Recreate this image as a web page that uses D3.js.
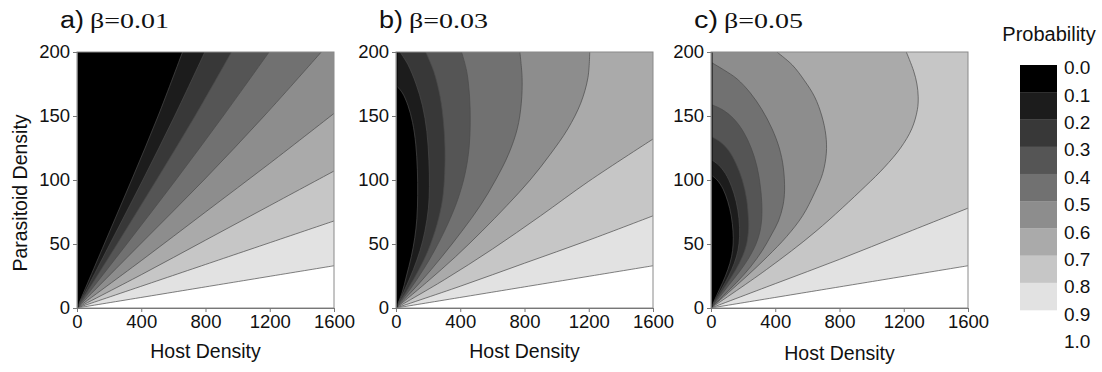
<!DOCTYPE html>
<html>
<head>
<meta charset="utf-8">
<script src="https://cdn.jsdelivr.net/npm/d3@7"></script>
<style>
  html, body { margin: 0; padding: 0; background: #fff; }
  svg { display: block; }
  text { font-family: "Liberation Sans", Arial, sans-serif; fill: #111; }
</style>
</head>
<body>
<svg id="chart" width="1102" height="372"></svg>
<script>
// ---------------- DATA ----------------
const panelLetters = ["a)", "b)", "c)"];
const panelBetas = ["β=0.01", "β=0.03", "β=0.05"];
const xTicks = [0, 400, 800, 1200, 1600];
const yTicks = [0, 50, 100, 150, 200];
const levels = [0.1, 0.2, 0.3, 0.4, 0.5, 0.6, 0.7, 0.8, 0.9];
const bandColors = ["#000000", "#1c1c1c", "#383838", "#555555", "#717171",
                    "#8d8d8d", "#aaaaaa", "#c6c6c6", "#e2e2e2"];
const legendLabels = ["0.0","0.1","0.2","0.3","0.4","0.5","0.6","0.7","0.8","0.9","1.0"];

// contour lines as [Host Density, Parasitoid Density]
const contoursA = [
  [[0,0],[170,50],[340,100],[505,150],[657,200]],
  [[0,0],[205,50],[410,100],[608,150],[796,200]],
  [[0,0],[250,50],[495,100],[735,150],[962,200]],
  [[0,0],[310,50],[615,100],[910,150],[1196,200]],
  [[0,0],[395,50],[790,100],[1165,150],[1521,200]],
  [[0,0],[400,37],[800,75],[1200,113],[1600,152]],
  [[0,0],[400,26],[800,53],[1200,80],[1600,107]],
  [[0,0],[800,34],[1600,68]],
  [[0,0],[800,16.5],[1600,33]]
];
const contoursB = [
  [[0,0],[38,12],[65,25],[95,40],[117,55],[130,70],[135,88],[133,108],[123,128],[103,145],[75,158],[40,168],[0,174]],
  [[0,0],[57,15],[108,30],[150,45],[180,60],[202,78],[208,95],[205,115],[192,138],[165,158],[125,175],[75,190],[25,200]],
  [[0,0],[75,15],[143,30],[200,45],[255,65],[290,85],[303,105],[305,125],[296,145],[275,165],[235,185],[185,200]],
  [[0,0],[90,15],[170,30],[240,45],[320,65],[385,85],[430,105],[455,125],[462,145],[458,165],[440,185],[408,200]],
  [[0,0],[150,20],[285,40],[410,60],[525,80],[620,100],[700,120],[755,140],[780,160],[785,180],[771,200]],
  [[0,0],[190,20],[370,40],[535,60],[690,80],[835,100],[960,120],[1070,140],[1150,160],[1195,180],[1206,200]],
  [[0,0],[300,22],[600,46],[900,72],[1200,99],[1600,132]],
  [[0,0],[400,17],[800,35],[1200,53],[1600,72]],
  [[0,0],[800,16.5],[1600,33]]
];
const contoursC = [
  [[0,0],[36,10],[73,20],[105,30],[128,40],[138,50],[137,60],[126,72],[105,83],[75,93],[38,100],[0,104]],
  [[0,0],[31,7],[67,15],[110,25],[145,35],[168,45],[178,56],[174,70],[157,83],[128,95],[90,105],[45,112],[0,116]],
  [[0,0],[52,10],[105,20],[155,30],[195,40],[222,50],[234,62],[233,70],[222,85],[195,100],[155,113],[110,123],[55,130],[0,134]],
  [[0,0],[50,8],[112,18],[175,28],[230,38],[280,50],[305,60],[317,73],[310,92],[287,110],[250,125],[200,138],[140,148],[70,155],[0,159]],
  [[0,0],[80,10],[160,20],[245,32],[320,45],[375,57],[420,68],[448,80],[458,92],[450,110],[425,125],[380,140],[317,155],[245,168],[162,179],[80,186],[0,192]],
  [[0,0],[108,12],[224,25],[350,40],[472,56],[570,72],[645,90],[695,105],[718,121],[715,135],[690,150],[645,165],[580,178],[505,190],[410,200]],
  [[0,0],[345,30],[654,60],[960,95],[1080,110],[1180,125],[1250,140],[1285,155],[1290,165],[1282,175],[1262,185],[1216,200]],
  [[0,0],[400,19],[800,38],[1200,58],[1600,78]],
  [[0,0],[800,16.5],[1600,33]]
];
const panelContours = [contoursA, contoursB, contoursC];

// ---------------- LAYOUT ----------------
const panelLeft = [77, 396, 711];
const plotW = 257, plotTop = 52, plotH = 256;

const svg = d3.select("#chart");
const defs = svg.append("defs");

panelContours.forEach((contours, pi) => {
  const x0 = panelLeft[pi];
  const x = d3.scaleLinear().domain([0, 1600]).range([x0, x0 + plotW]);
  const y = d3.scaleLinear().domain([0, 200]).range([plotTop + plotH, plotTop]);
  const g = svg.append("g");

  const clipId = "clip" + pi;
  defs.append("clipPath").attr("id", clipId)
    .append("rect").attr("x", x0).attr("y", plotTop).attr("width", plotW).attr("height", plotH);

  const area = g.append("g").attr("clip-path", `url(#${clipId})`);
  area.append("rect").attr("x", x0).attr("y", plotTop).attr("width", plotW).attr("height", plotH)
    .attr("fill", "#ffffff");

  const line = d3.line().x(d => x(d[0])).y(d => y(d[1])).curve(d3.curveCatmullRom.alpha(0.5));

  // paint regions from highest level to lowest
  for (let k = levels.length - 1; k >= 0; k--) {
    const pts = contours[k];
    const last = pts[pts.length - 1];
    let corners = [];
    if (last[0] >= 1600) corners = [[1600, 200], [0, 200]];
    else if (last[1] >= 200) corners = [[0, 200]];
    const d = line(pts) + corners.map(c => `L${x(c[0])},${y(c[1])}`).join("") + "Z";
    area.append("path").attr("d", d).attr("fill", bandColors[k]).attr("stroke", "none");
  }
  // contour lines
  contours.forEach(pts => {
    area.append("path").attr("d", line(pts)).attr("fill", "none")
      .attr("stroke", "#4a4a4a").attr("stroke-width", 0.7);
  });
  // dark left edge
  area.append("line").attr("x1", x0 + 0.5).attr("x2", x0 + 0.5)
    .attr("y1", plotTop).attr("y2", plotTop + plotH)
    .attr("stroke", "#000").attr("stroke-width", 2);

  // frame
  g.append("rect").attr("x", x0).attr("y", plotTop).attr("width", plotW).attr("height", plotH)
    .attr("fill", "none").attr("stroke", "#8a8a8a").attr("stroke-width", 1);

  // axes
  const xAxis = d3.axisBottom(x).tickValues(xTicks).tickSize(4).tickPadding(3).tickFormat(d3.format("d"));
  const yAxis = d3.axisLeft(y).tickValues(yTicks).tickSize(4).tickPadding(3).tickFormat(d3.format("d"));
  const gx = g.append("g").attr("transform", `translate(0,${plotTop + plotH})`).call(xAxis);
  const gy = g.append("g").attr("transform", `translate(${x0},0)`).call(yAxis);
  [gx, gy].forEach(ax => {
    ax.select(".domain").attr("stroke", "#777");
    ax.selectAll(".tick line").attr("stroke", "#777");
    ax.selectAll(".tick text").style("font-family", '"Liberation Sans", Arial, sans-serif')
      .style("font-size", "18.5px").attr("fill", "#111");
  });

  // titles
  const title = svg.append("g");
  title.append("text").attr("x", x0 - 17).attr("y", 28).text(panelLetters[pi])
    .style("font-size", "23px").attr("textLength", 24).attr("lengthAdjust", "spacingAndGlyphs");
  title.append("text").attr("x", x0 + 13).attr("y", 28).text(panelBetas[pi])
    .style("font-family", '"Liberation Serif", "Times New Roman", serif')
    .style("font-size", "21px").attr("textLength", 79).attr("lengthAdjust", "spacingAndGlyphs");

  // x title
  svg.append("text").attr("x", x0 + plotW / 2).attr("y", 358 + (pi === 2 ? 2 : 0))
    .attr("text-anchor", "middle").style("font-size", "19.5px").text("Host Density");
});

// y title
svg.append("text").attr("transform", "translate(27,193) rotate(-90)")
  .attr("text-anchor", "middle").style("font-size", "19.5px").text("Parasitoid Density");

// ---------------- LEGEND ----------------
const lg = svg.append("g");
const ly = d3.scaleLinear().domain([0, 0.9]).range([65, 310]);
const lLab = d3.scaleLinear().domain([0, 1]).range([67.5, 341.5]);
levels.forEach((lv, i) => {
  const v0 = lv - 0.1;
  lg.append("rect").attr("x", 1020).attr("width", 37)
    .attr("y", ly(v0)).attr("height", ly(lv) - ly(v0) + 0.3)
    .attr("fill", bandColors[i]);
});
legendLabels.forEach((t, i) => {
  lg.append("text").attr("x", 1064).attr("y", lLab(i / 10)).attr("dy", "0.35em")
    .style("font-size", "19px").text(t);
});
lg.append("text").attr("x", 1049).attr("y", 41).attr("text-anchor", "middle")
  .style("font-size", "20px").text("Probability");
</script>
</body>
</html>
